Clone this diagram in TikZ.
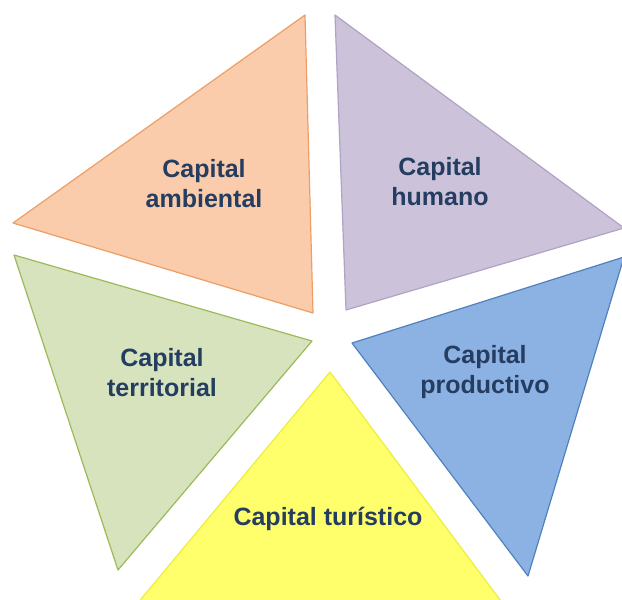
\documentclass[tikz,border=0pt]{standalone}
\usepackage{fontspec}
\setmainfont{Liberation Sans}
\usetikzlibrary{calc}

\begin{document}
\begin{tikzpicture}[line cap=round,line join=round,x=0.5pt,y=-0.5pt]
\definecolor{ffcbaa}{rgb}{0.98,0.80,0.67}
\definecolor{ee9e66}{rgb}{0.93,0.62,0.40}
\definecolor{ccc1da}{rgb}{0.80,0.76,0.85}
\definecolor{b0a2c4}{rgb}{0.69,0.64,0.77}
\definecolor{d7e4bd}{rgb}{0.84,0.89,0.74}
\definecolor{9bbb59}{rgb}{0.61,0.73,0.35}
\definecolor{8db3e2}{rgb}{0.55,0.70,0.89}
\definecolor{4f81bd}{rgb}{0.31,0.51,0.74}
\definecolor{ffff66}{rgb}{1.,1.,0.42}
\definecolor{eeee33}{rgb}{0.93,0.93,0.25}
\definecolor{navy}{rgb}{0.14,0.24,0.38}
\tikzset{lbl/.style={text=navy,font=\bfseries\fontsize{12.5}{15}\selectfont,align=center}}
\useasboundingbox (0,0) rectangle (622,600);
\clip (0,0) rectangle (622,600);
% ambiental
\filldraw[fill=ffcbaa,draw=ee9e66,line width=0.6pt] (305,15) -- (13,223) -- (313,313) -- cycle;
% humano
\filldraw[fill=ccc1da,draw=b0a2c4,line width=0.6pt] (335,15) -- (624,228) -- (346,310) -- cycle;
% territorial
\filldraw[fill=d7e4bd,draw=9bbb59,line width=0.6pt] (14,255) -- (312,341) -- (118,570) -- cycle;
% productivo
\filldraw[fill=8db3e2,draw=4f81bd,line width=0.6pt] (352,343) -- (624,257) -- (528,576) -- cycle;
% turistico
\filldraw[fill=ffff66,draw=eeee33,line width=0.6pt] (330,372) -- (530,640) -- (107,640) -- cycle;
\node[lbl] (amb) at (204,184) {Capital\\ambiental};
\node[lbl] (hum) at (440,182) {Capital\\humano};
\node[lbl] (ter) at (162,373) {Capital\\territorial};
\node[lbl] (pro) at (485,372) {Capital\\productivo};
\node[lbl] (tur) at (328,519) {Capital turístico};
\end{tikzpicture}
\end{document}
